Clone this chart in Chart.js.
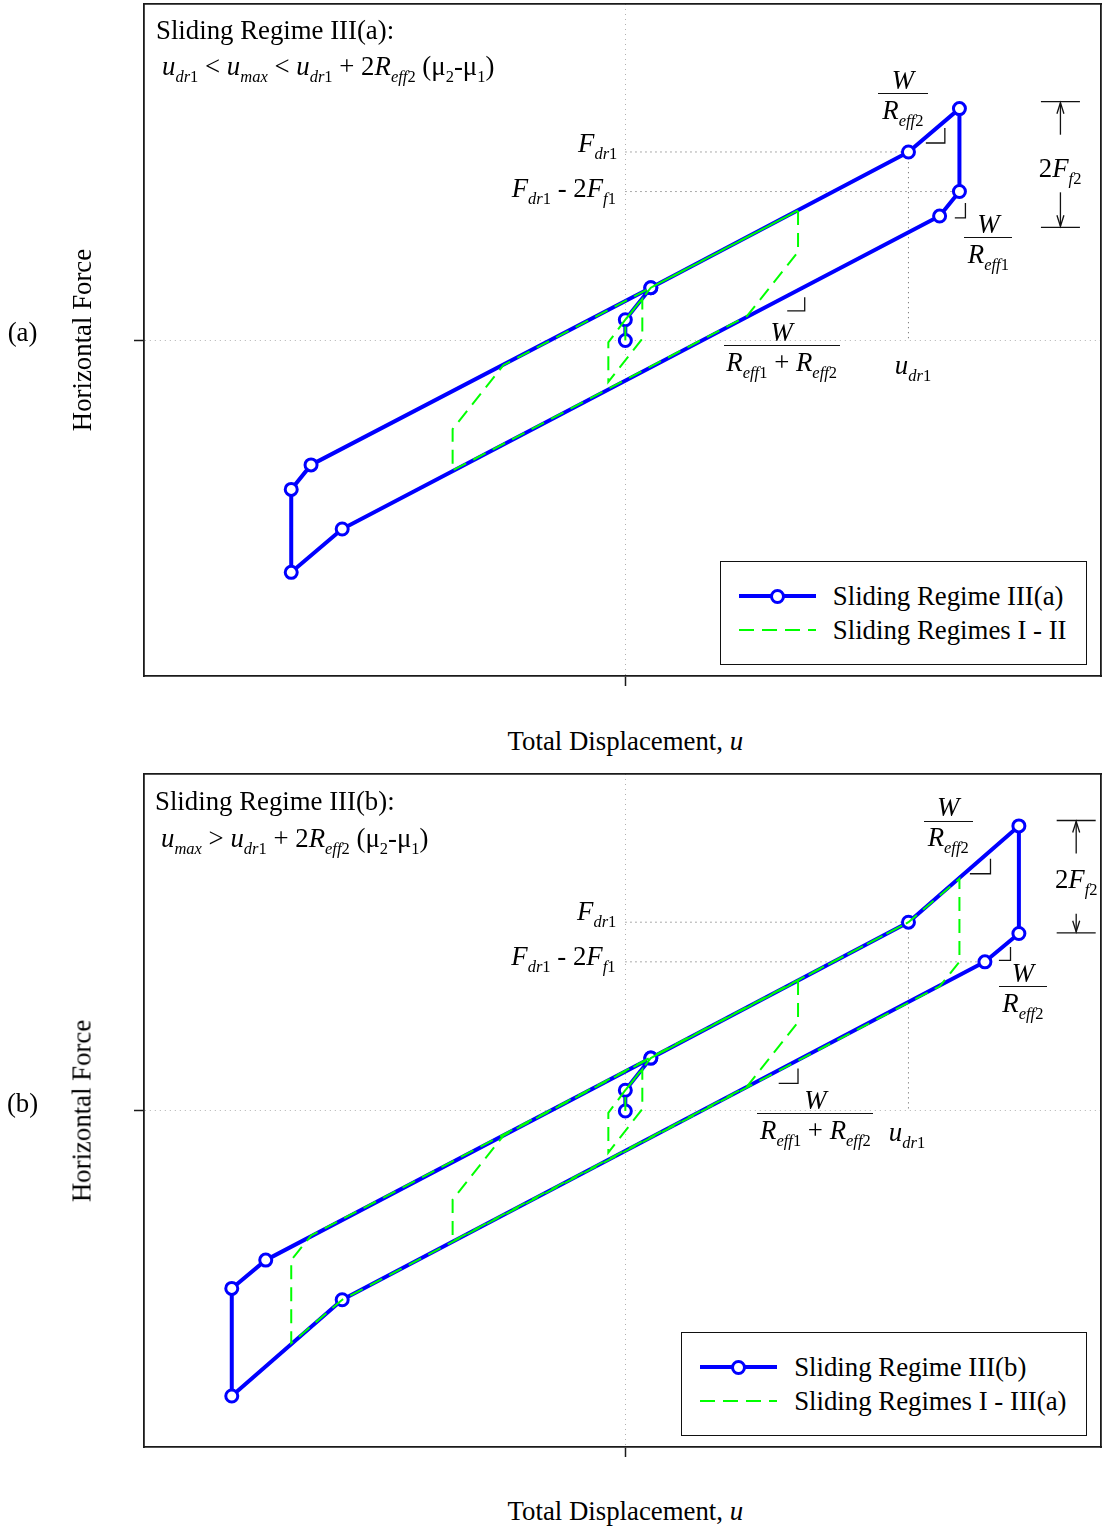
<!DOCTYPE html>
<html>
<head>
<meta charset="utf-8">
<title>Hysteresis loops: sliding regimes III(a) and III(b)</title>
<script src="https://cdn.jsdelivr.net/npm/chart.js@4.4.1/dist/chart.umd.min.js"></script>
<style>
  html, body { margin: 0; padding: 0; background: #fff; }
  #page { position: relative; width: 1105px; height: 1527px; overflow: hidden;
          font-family: "Liberation Serif", "Times New Roman", Times, serif; color: #000; }
  .panel { position: absolute; left: 0; width: 1105px; }
  .panel canvas { position: absolute; left: 0; top: 0; }
  .t { position: absolute; font-size: 26.8px; line-height: 27px; white-space: nowrap; }
  .t i, .ltxt i { font-style: italic; }
  .s { font-size: 16.5px; position: relative; top: 7px; }
  .bar { position: absolute; height: 0; border-top: 1.3px solid #111; }
  .legend { position: absolute; border: 1.3px solid #111; background: #fff; padding: 17px 19px 17px 18px; }
  .lrow { display: flex; align-items: center; height: 34px; }
  .lsym { position: relative; width: 77px; height: 16px; margin-right: 17px; flex: none; }
  .ltxt { font-size: 26.8px; line-height: 27px; white-space: nowrap; }
</style>
</head>
<body>
<div id="page">
  <div class="panel" id="panelA" style="top:0;height:770px;"><canvas id="chartA" width="1105" height="700"></canvas></div>
  <div class="panel" id="panelB" style="top:770px;height:757px;"><canvas id="chartB" width="1105" height="701"></canvas></div>
</div>
<script>
// Displacement u is given in units of u_dr1, force F in units of F_dr1.

// (a) Sliding Regime III(a) loop
const loopIIIa_u = [0, 0, 0.09, 1.00, 1.18, 1.18, 1.11, -1.00, -1.18, -1.18, -1.11, 0.09];
const loopIIIa_F = [0, 0.11, 0.28, 1.00, 1.23, 0.79, 0.66, -1.00, -1.23, -0.79, -0.66, 0.28];

// (a) Sliding Regimes I - II loops
const loopsI_II_u = [0, 0, 0.06, 0.06, -0.06, -0.06, 0, 0.09, 0.61, 0.61, 0.43, -0.61, -0.61, -0.43, 0.61];
const loopsI_II_F = [0, 0.11, 0.22, 0.01, -0.22, -0.01, 0.11, 0.28, 0.69, 0.47, 0.13, -0.69, -0.47, -0.13, 0.69];

// (b) Sliding Regime III(b) loop
const loopIIIb_u = [0, 0, 0.09, 1.00, 1.39, 1.39, 1.27, -1.00, -1.39, -1.39, -1.27, 0.09];
const loopIIIb_F = [0, 0.11, 0.28, 1.00, 1.51, 0.94, 0.79, -1.00, -1.51, -0.94, -0.79, 0.28];

// (b) Sliding Regimes I - III(a) loops
const loopsI_IIIa_u = [0, 0, 0.06, 0.06, -0.06, -0.06, 0, 0.09, 0.61, 0.61, 0.43, -0.61, -0.61, -0.43,
                       1.00, 1.18, 1.18, 1.11, -1.00, -1.18, -1.18, -1.11, 1.00];
const loopsI_IIIa_F = [0, 0.11, 0.22, 0.01, -0.22, -0.01, 0.11, 0.28, 0.69, 0.47, 0.13, -0.69, -0.47, -0.13,
                       1.00, 1.23, 0.79, 0.66, -1.00, -1.23, -0.79, -0.66, 1.00];

// Dotted reference lines: F_dr1 level, F_dr1 - 2F_f1 level, u_dr1 drop line
const fdr1LineA_u = [0, 1.00],      fdr1LineA_F = [1.00, 1.00];
const fdrMinusLineA_u = [0, 1.18],  fdrMinusLineA_F = [0.79, 0.79];
const udr1LineA_u = [1.00, 1.00],   udr1LineA_F = [1.00, 0];
const fdr1LineB_u = [0, 1.00],      fdr1LineB_F = [1.00, 1.00];
const fdrMinusLineB_u = [0, 1.27],  fdrMinusLineB_F = [0.79, 0.79];
const udr1LineB_u = [1.00, 1.00],   udr1LineB_F = [1.00, 0];

// Series names
const namesA = ['Sliding Regime III(a)', 'Sliding Regimes I - II'];
const namesB = ['Sliding Regime III(b)', 'Sliding Regimes I - III(a)'];

// Axis ranges
const uRange = [-1.70, 1.68];
const FRange = [-1.78, 1.785];

// Text metrics (Liberation Serif): baseline offset inside a .t box
const FS = 26.8, LH = 27;
const BASE = (LH - 1.107 * FS) / 2 + 0.891 * FS;

// ---------- helpers ----------
const pts = (u, F) => u.map((x, i) => ({ x, y: F[i] }));
const it = s => `<i>${s}</i>`;
const sb = s => `<span class="s">${s}</span>`;
const U_DR1 = `${it('u')}${sb(it('dr') + '1')}`;
const U_MAX = `${it('u')}${sb(it('max'))}`;
const F_DR1 = `${it('F')}${sb(it('dr') + '1')}`;
const F_F1 = `${it('F')}${sb(it('f') + '1')}`;
const F_F2 = `${it('F')}${sb(it('f') + '2')}`;
const R_EFF1 = `${it('R')}${sb(it('eff') + '1')}`;
const R_EFF2 = `${it('R')}${sb(it('eff') + '2')}`;
const MU_DIFF = `(μ${sb('2')}-μ${sb('1')})`;

function loopDataset(label, u, F) {
  return { label, data: pts(u, F), showLine: true, borderColor: '#0000ff', borderWidth: 4,
           pointRadius: 6, pointBorderWidth: 3, pointBackgroundColor: '#ffffff',
           pointBorderColor: '#0000ff', borderJoinStyle: 'round', order: 2 };
}
function dashedDataset(label, u, F) {
  return { label, data: pts(u, F), showLine: true, borderColor: '#00ff00', borderWidth: 2,
           borderDash: [14, 8], borderCapStyle: 'butt', pointRadius: 0, order: 1 };
}
function guideDataset(u, F) {
  return { label: '', guide: true, data: pts(u, F), showLine: true, borderColor: '#7d7d7d',
           borderWidth: 1, borderDash: [1.3, 3.7], pointRadius: 0, order: 3 };
}

function axis(pos, range, zeroTick) {
  const frame = { display: true, color: '#1a1a1a', width: 1.8, dash: [1, 4] };
  if (zeroTick) {
    return { type: 'linear', position: pos, min: range[0], max: range[1],
      afterBuildTicks: s => { s.ticks = [{ value: 0 }]; },
      ticks: { display: false },
      grid: { color: '#b0b0b0', lineWidth: 1, drawTicks: true, tickLength: 10,
              tickColor: '#1a1a1a', tickWidth: 1.5, tickBorderDash: [] },
      border: frame };
  }
  return { type: 'linear', position: pos, min: range[0], max: range[1],
    afterBuildTicks: s => { s.ticks = []; },
    afterFit: s => { if (s.isHorizontal()) s.height = 0; else s.width = 0; },
    ticks: { display: false }, grid: { display: false, drawTicks: false }, border: frame };
}

function arrow(ctx, x, from, to) {
  const dir = Math.sign(to - from);
  ctx.beginPath(); ctx.moveTo(x, from); ctx.lineTo(x, to); ctx.stroke();
  ctx.beginPath(); ctx.moveTo(x - 3.5, to - dir * 11); ctx.lineTo(x, to); ctx.lineTo(x + 3.5, to - dir * 11); ctx.stroke();
}

// Slope corners and the 2F_f2 dimension, placed relative to loop points
function marksPlugin(spec) {
  return {
    id: 'slopeMarks',
    afterDatasetsDraw(chart) {
      const { ctx, scales: { x, y } } = chart;
      ctx.save();
      ctx.strokeStyle = '#111'; ctx.lineWidth = 1.3; ctx.setLineDash([]);
      spec.corners.forEach(c => {
        const px = x.getPixelForValue(c.at[0]) + c.dx, py = y.getPixelForValue(c.at[1]) + c.dy;
        ctx.beginPath(); ctx.moveTo(px - c.h, py); ctx.lineTo(px, py); ctx.lineTo(px, py - c.v); ctx.stroke();
      });
      const d = spec.dim;
      const ax = x.getPixelForValue(d.at[0]) + d.dx;
      const y0 = y.getPixelForValue(d.at[1]);
      const top = y0 + d.dyTop, bot = y0 + d.dyBot;
      [top, bot].forEach(yy => { ctx.beginPath(); ctx.moveTo(ax - 19.5, yy); ctx.lineTo(ax + 19.5, yy); ctx.stroke(); });
      arrow(ctx, ax, top + d.upLen, top + 1);
      arrow(ctx, ax, bot - d.downLen, bot - 1);
      ctx.restore();
    }
  };
}

function addText(host, html, x, base, align) {
  const el = document.createElement('div');
  el.className = 't'; el.innerHTML = html;
  el.style.left = x + 'px'; el.style.top = (base - BASE) + 'px';
  if (align === 'right') el.style.transform = 'translateX(-100%)';
  if (align === 'center') el.style.transform = 'translateX(-50%)';
  host.appendChild(el);
  return el;
}

function addFrac(host, num, den, cx, by, w) {
  const bar = document.createElement('div');
  bar.className = 'bar';
  bar.style.left = (cx - w / 2) + 'px'; bar.style.top = by + 'px'; bar.style.width = w + 'px';
  host.appendChild(bar);
  addText(host, num, cx, by - 3.5, 'center');
  addText(host, den, cx, by + 26.5, 'center');
}

function addLegend(host, chart, hostHeight) {
  const ca = chart.chartArea;
  const box = document.createElement('div');
  box.className = 'legend';
  chart.data.datasets.filter(ds => !ds.guide).forEach(ds => {
    const row = document.createElement('div'); row.className = 'lrow';
    const sym = document.createElement('div'); sym.className = 'lsym';
    const ln = document.createElement('div');
    const lw = ds.borderWidth;
    ln.style.cssText = `position:absolute;left:0;right:0;top:50%;height:${lw}px;margin-top:${-lw / 2}px;`;
    if (ds.borderDash) {
      const [on, off] = ds.borderDash;
      ln.style.background = `repeating-linear-gradient(90deg, ${ds.borderColor} 0 ${on + 1}px, transparent ${on + 1}px ${on + off + 1}px)`;
    } else {
      ln.style.background = ds.borderColor;
    }
    sym.appendChild(ln);
    if (ds.pointRadius) {
      const d = 2 * ds.pointRadius + ds.pointBorderWidth;
      const mk = document.createElement('div');
      mk.style.cssText = `position:absolute;left:50%;top:50%;width:${d}px;height:${d}px;box-sizing:border-box;` +
        `margin:${-d / 2}px 0 0 ${-d / 2}px;border-radius:50%;border:${ds.pointBorderWidth}px solid ${ds.pointBorderColor};` +
        `background:${ds.pointBackgroundColor};`;
      sym.appendChild(mk);
    }
    const txt = document.createElement('div'); txt.className = 'ltxt'; txt.textContent = ds.label;
    row.appendChild(sym); row.appendChild(txt); box.appendChild(row);
  });
  box.style.right = (1105 - (ca.right - 14.5)) + 'px';
  box.style.bottom = (hostHeight - (ca.bottom - 11)) + 'px';
  host.appendChild(box);
}

function buildPanel(cfg) {
  const datasets = [
    loopDataset(cfg.names[0], cfg.loopU, cfg.loopF),
    dashedDataset(cfg.names[1], cfg.dashU, cfg.dashF),
    ...cfg.guides.map(g => guideDataset(g[0], g[1]))
  ];
  const chart = new Chart(document.getElementById(cfg.canvas), {
    type: 'scatter',
    data: { datasets },
    options: {
      responsive: false, animation: false, devicePixelRatio: 1, events: [],
      layout: { autoPadding: false, padding: { left: 134, right: 5, top: 4, bottom: 14 } },
      plugins: { legend: { display: false }, tooltip: { enabled: false } },
      scales: {
        x: axis('bottom', uRange, true),
        y: axis('left', FRange, true),
        x2: axis('top', uRange, false),
        y2: axis('right', FRange, false)
      }
    },
    plugins: [marksPlugin(cfg.marks)]
  });

  // pin the plot frame to the wanted box inside the canvas
  const want = cfg.frame;
  let ca = chart.chartArea;
  const p0 = { left: 134, right: 5, top: 4, bottom: 14 };
  chart.options.layout.padding = {
    left: p0.left + want.left - ca.left,
    top: p0.top + want.top - ca.top,
    right: p0.right + ca.right - want.right,
    bottom: p0.bottom + ca.bottom - want.bottom
  };
  chart.update();
  ca = chart.chartArea;

  const host = document.getElementById(cfg.host);
  const { x, y } = chart.scales;
  const X = v => x.getPixelForValue(v), Y = v => y.getPixelForValue(v);

  // panel letter and axis titles
  addText(host, cfg.letter, 22.5, Y(0) + 1.5, 'center');
  const yt = addText(host, 'Horizontal Force', 82, Y(0), 'left');
  yt.style.top = Y(0) + 'px';
  yt.style.transform = 'translate(-50%,-50%) rotate(-90deg)';
  addText(host, `Total Displacement, ${it('u')}`, X(0), ca.bottom + cfg.xTitleGap, 'center');

  // regime heading and condition
  addText(host, cfg.heading, cfg.headX, ca.top + cfg.headDy, 'left');
  addText(host, cfg.cond, cfg.condX, ca.top + cfg.condDy, 'left');

  // annotation labels anchored to data points
  cfg.texts.forEach(tx => addText(host, tx.html, X(tx.at[0]) + tx.dx, Y(tx.at[1]) + tx.dy, tx.align));
  cfg.fracs.forEach(f => addFrac(host, f.num, f.den, X(f.at[0]) + f.dx, Y(f.at[1]) + f.dy, f.w));

  addLegend(host, chart, cfg.hostHeight);
  return chart;
}

const pt = (u, F, i) => [u[i], F[i]];
const mid = (u, F, i, j) => [(u[i] + u[j]) / 2, (F[i] + F[j]) / 2];
const onLine = (u, F, i, j, v) => [v, F[j] + (F[i] - F[j]) * (v - u[j]) / (u[i] - u[j])];

// ---------- panel (a) ----------
const lowA = onLine(loopIIIa_u, loopIIIa_F, 6, 7, 0.6);
buildPanel({
  canvas: 'chartA', host: 'panelA', hostHeight: 770, letter: '(a)', names: namesA,
  frame: { left: 144, top: 4, right: 1101, bottom: 676 },
  loopU: loopIIIa_u, loopF: loopIIIa_F, dashU: loopsI_II_u, dashF: loopsI_II_F,
  guides: [[fdr1LineA_u, fdr1LineA_F], [fdrMinusLineA_u, fdrMinusLineA_F], [udr1LineA_u, udr1LineA_F]],
  xTitleGap: 75,
  heading: 'Sliding Regime III(a):', headX: 156, headDy: 36,
  cond: `${U_DR1} &lt; ${U_MAX} &lt; ${U_DR1} + 2${R_EFF2} ${MU_DIFF}`,
  condX: 162, condDy: 72,
  texts: [
    { html: F_DR1, at: [0, fdr1LineA_F[0]], dx: -8, dy: 1, align: 'right' },
    { html: `${F_DR1} - 2${F_F1}`, at: [0, fdrMinusLineA_F[0]], dx: -9.4, dy: 6, align: 'right' },
    { html: U_DR1, at: [udr1LineA_u[0], 0], dx: -13.6, dy: 34.5, align: 'left' },
    { html: `2${F_F2}`, at: pt(loopIIIa_u, loopIIIa_F, 4), dx: 79.4, dy: 68.5, align: 'left' }
  ],
  fracs: [
    { num: it('W'), den: R_EFF2, at: pt(loopIIIa_u, loopIIIa_F, 4), dx: -56.6, dy: -15.6, w: 50 },
    { num: it('W'), den: R_EFF1, at: pt(loopIIIa_u, loopIIIa_F, 5), dx: 28.9, dy: 45.4, w: 48 },
    { num: it('W'), den: `${R_EFF1} + ${R_EFF2}`, at: lowA, dx: -13.5, dy: 53.5, w: 116 }
  ],
  marks: {
    corners: [
      { at: mid(loopIIIa_u, loopIIIa_F, 3, 4), dx: 10.9, dy: 12.7, h: 19, v: 15 },
      { at: mid(loopIIIa_u, loopIIIa_F, 5, 6), dx: 15.9, dy: 14.1, h: 10.6, v: 15 },
      { at: lowA, dx: 9.5, dy: 19.2, h: 17.5, v: 13.7 }
    ],
    dim: { at: pt(loopIIIa_u, loopIIIa_F, 4), dx: 101, dyTop: -6.9, dyBot: 118.7, upLen: 33, downLen: 35 }
  }
});

// ---------- panel (b) ----------
const lowB = onLine(loopIIIb_u, loopIIIb_F, 6, 7, 0.6);
buildPanel({
  canvas: 'chartB', host: 'panelB', hostHeight: 757, letter: '(b)', names: namesB,
  frame: { left: 144, top: 4, right: 1101, bottom: 677 },
  loopU: loopIIIb_u, loopF: loopIIIb_F, dashU: loopsI_IIIa_u, dashF: loopsI_IIIa_F,
  guides: [[fdr1LineB_u, fdr1LineB_F], [fdrMinusLineB_u, fdrMinusLineB_F], [udr1LineB_u, udr1LineB_F]],
  xTitleGap: 74,
  heading: 'Sliding Regime III(b):', headX: 155, headDy: 37,
  cond: `${U_MAX} &gt; ${U_DR1} + 2${R_EFF2} ${MU_DIFF}`,
  condX: 161, condDy: 74,
  texts: [
    { html: F_DR1, at: [0, fdr1LineB_F[0]], dx: -9, dy: -1.7, align: 'right' },
    { html: `${F_DR1} - 2${F_F1}`, at: [0, fdrMinusLineB_F[0]], dx: -9.8, dy: 3.6, align: 'right' },
    { html: U_DR1, at: [udr1LineB_u[0], 0], dx: -19.6, dy: 31, align: 'left' },
    { html: `2${F_F2}`, at: pt(loopIIIb_u, loopIIIb_F, 4), dx: 36, dy: 63, align: 'left' }
  ],
  fracs: [
    { num: it('W'), den: R_EFF2, at: pt(loopIIIb_u, loopIIIb_F, 4), dx: -70.7, dy: -5.4, w: 49 },
    { num: it('W'), den: R_EFF2, at: pt(loopIIIb_u, loopIIIb_F, 5), dx: 4, dy: 52.9, w: 48 },
    { num: it('W'), den: `${R_EFF1} + ${R_EFF2}`, at: lowB, dx: 20.2, dy: 51.6, w: 116 }
  ],
  marks: {
    corners: [
      { at: mid(loopIIIb_u, loopIIIb_F, 3, 4), dx: 26.8, dy: -0.3, h: 20.6, v: 15 },
      { at: mid(loopIIIb_u, loopIIIb_F, 5, 6), dx: 8.6, dy: 12.7, h: 11.6, v: 13.3 },
      { at: lowB, dx: 2.8, dy: 21.9, h: 19.3, v: 15 }
    ],
    dim: { at: pt(loopIIIb_u, loopIIIb_F, 4), dx: 57.3, dyTop: -5.4, dyBot: 106.9, upLen: 33, downLen: 19 }
  }
});
</script>
</body>
</html>
